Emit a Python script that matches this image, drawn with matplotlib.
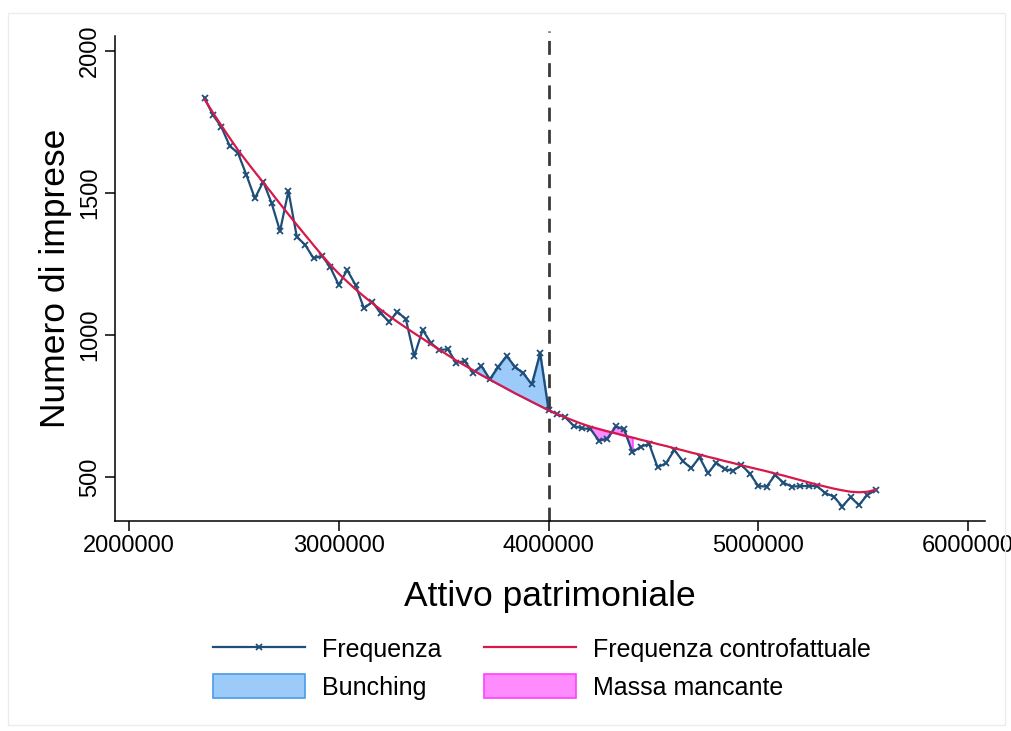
import matplotlib.pyplot as plt
import matplotlib.patches as mpatches
from matplotlib.lines import Line2D
import numpy as np

plt.rcParams['font.family'] = ['Liberation Sans', 'DejaVu Sans']

# bins of total assets (40k wide)
attivo = np.arange(2360000, 5560001, 40000)

# observed number of firms per bin
frequenza = [1835, 1775, 1733, 1666, 1640, 1563, 1481, 1540, 1464, 1366,
             1507, 1346, 1317, 1270, 1279, 1238, 1176, 1229, 1176, 1094,
             1117, 1076, 1047, 1082, 1055, 926, 1018, 971, 947, 950,
             902, 908, 867, 891, 844, 888, 926, 888, 865, 826,
             936, 736, 721, 710, 680, 671, 669, 628, 635, 678,
             668, 587, 607, 616, 534, 548, 595, 556, 531, 569,
             513, 550, 527, 522, 542, 512, 468, 466, 507, 480,
             466, 468, 468, 468, 443, 431, 396, 429, 401, 437,
             454]

# counterfactual frequency (polynomial fit)
controfattuale = [1830, 1783, 1738, 1694, 1651, 1612, 1574, 1537, 1500, 1462,
                  1425, 1388, 1352, 1316, 1281, 1247, 1216, 1188, 1161, 1136,
                  1112, 1089, 1067, 1046, 1026, 1006, 987, 967, 948, 929,
                  910, 893, 876, 859, 843, 827, 811, 795, 780, 765,
                  750, 735, 722, 710, 698, 687, 677, 669, 661, 654,
                  646, 639, 631, 624, 616, 609, 601, 594, 586, 579,
                  571, 564, 556, 549, 541, 534, 527, 520, 512, 505,
                  497, 489, 481, 473, 466, 459, 453, 448, 446, 448,
                  455]

soglia = 4000000
bunching_win = (3640000, 4000000)
mancante_win = (4200000, 4400000)

frequenza = np.array(frequenza)
controfattuale = np.array(controfattuale)

col_freq = '#1f4e79'
col_cf = '#d6194a'

fig = plt.figure(figsize=(10.11, 7.31), dpi=100)
fig.patches.append(mpatches.Rectangle((8 / 1011, 6 / 731), 997 / 1011, 712 / 731,
                                      transform=fig.transFigure, fill=False,
                                      edgecolor='#ececec', linewidth=1))
ax = fig.add_axes([0.1137, 0.2873, 0.8606, 0.6635])

b = (attivo >= bunching_win[0]) & (attivo <= bunching_win[1])
m = (attivo >= mancante_win[0]) & (attivo <= mancante_win[1])
ax.fill_between(attivo[b], frequenza[b], controfattuale[b],
                facecolor='#9ccbfa', edgecolor='#4a9be8', linewidth=1.2, zorder=1)
ax.fill_between(attivo[m], frequenza[m], controfattuale[m],
                facecolor='#ff8cff', edgecolor='#ff40ff', linewidth=1.2, zorder=1)

ax.plot(attivo, frequenza, color=col_freq, linewidth=1.6, marker='x',
        markersize=4, markeredgewidth=1.3, zorder=3)
ax.plot(attivo, controfattuale, color=col_cf, linewidth=1.6, zorder=4)

ax.axvline(soglia, ymax=1.01, color='#3a3a3a', linewidth=2, linestyle=(0, (5, 3)),
           zorder=2, clip_on=False)

ax.set_xlim(1933000, 6081000)
ax.set_ylim(345, 2053)
ax.set_xticks([2000000, 3000000, 4000000, 5000000, 6000000])
ax.set_xticklabels(['2000000', '3000000', '4000000', '5000000', '6000000'])
ax.set_yticks([500, 1000, 1500, 2000])
ax.set_yticklabels(['500', '1000', '1500', '2000'], rotation=90, va='center')

for s in ['top', 'right']:
    ax.spines[s].set_visible(False)
for s in ['left', 'bottom']:
    ax.spines[s].set_linewidth(1.1)
ax.tick_params(direction='out', length=7, width=1.1, labelsize=17, pad=3)

ax.set_xlabel('Attivo patrimoniale', fontsize=25.5, labelpad=17)
ax.set_ylabel('Numero di imprese', fontsize=25.5, labelpad=5)

handles = [
    Line2D([], [], color=col_freq, linewidth=1.6, marker='x', markersize=4,
           markeredgewidth=1.3, markevery=[1]),
    mpatches.Patch(facecolor='#9ccbfa', edgecolor='#4a9be8', linewidth=1.2),
    Line2D([], [], color=col_cf, linewidth=1.6),
    mpatches.Patch(facecolor='#ff8cff', edgecolor='#ff40ff', linewidth=1.2),
]
labels = ['Frequenza', 'Bunching', 'Frequenza controfattuale', 'Massa mancante']
leg = fig.legend(handles, labels, loc='center', bbox_to_anchor=(542 / 1011, 1 - 668 / 731),
                 ncol=2, frameon=False, fontsize=18, handlelength=3.7, handleheight=1.1,
                 handletextpad=0.68, columnspacing=1.68, labelspacing=0.5)

fig.savefig('out.png', dpi=100, facecolor='white')
